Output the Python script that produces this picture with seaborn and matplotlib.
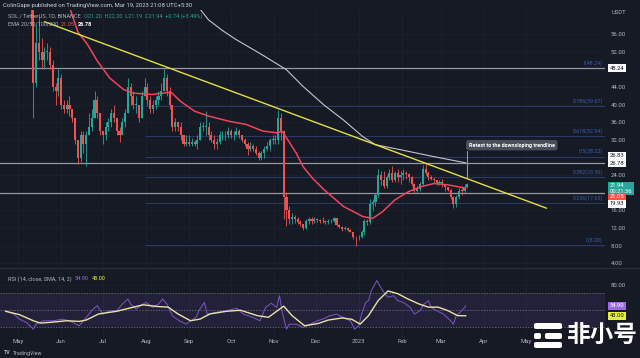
import matplotlib
matplotlib.use('Agg')
import matplotlib.pyplot as plt
import matplotlib.dates as mdates
import matplotlib.transforms as mtransforms
from matplotlib.patches import FancyBboxPatch
import numpy as np
import pandas as pd
import seaborn as sns

# SOL / USDT, 2-day candles
candle_start = '2022-05-07'
first_open = 86
close_px = [76, 62, 45, 54, 52, 50, 52, 52, 49, 44,
            43, 46, 40, 39, 40, 39, 37, 32, 28, 33,
            31, 33, 35, 37, 41, 38, 34, 33, 35, 36,
            38, 37, 34, 33, 36, 38, 44, 42, 40, 40,
            37, 42, 44, 41, 39, 40, 41, 42, 43, 46,
            43, 40, 35, 36, 35, 33, 31, 31.5, 31, 31.5,
            31, 32, 35, 35, 35, 33, 32, 31, 31.5, 33,
            33, 33, 34, 33, 33, 34, 33, 32, 31, 30,
            30.5, 30, 29, 28, 29, 30, 30.5, 32, 32, 32,
            37, 34, 19, 16, 14, 14.5, 14, 13.3, 13, 12,
            13.5, 14, 13.5, 14, 13.8, 13.7, 13.5, 13.3, 13.6, 13.5,
            14.2, 12.8, 12.3, 11.8, 12, 11.6, 11.2, 10, 9.9, 10,
            11, 13.5, 13.3, 17.5, 17.8, 19.5, 24, 23, 21.5, 23.5,
            24.5, 23, 24.5, 23.6, 24, 24.5, 24.3, 23.5, 22, 20.5,
            20.8, 22, 25.5, 24.5, 23.5, 23.2, 22.8, 22.3, 22.5, 21.9,
            21.2, 20.7, 19, 17.5, 19, 20.5, 20.4, 21.2, 21.94]
high_px = [88, 77, 63, 58, 60, 55, 53, 54, 53, 50,
           45, 48, 47, 41, 41, 42, 39, 37, 32, 34,
           34, 34, 38, 39, 43, 42, 38, 34, 36, 37,
           39, 40, 37, 35, 37, 39, 46, 45, 43, 42,
           40, 43, 46, 45, 42, 41, 42, 43, 45, 48,
           47, 44, 40, 37, 36, 36, 33, 33, 33, 32.5,
           32, 33, 36, 36, 38.5, 36, 34, 33, 32.5, 34,
           34, 34, 35, 34.5, 34, 35, 34.5, 33, 32.5, 31.5,
           31.5, 31, 30.5, 29.5, 29.5, 30.5, 31.5, 32.5, 33, 33,
           38.8, 38, 34, 20, 17, 15.5, 15, 14.5, 13.8, 13,
           14, 14.5, 14.5, 14.5, 14.3, 14.1, 14.5, 13.8, 14, 14,
           14.6, 14.3, 13, 12.5, 12.4, 12.2, 11.8, 11.2, 10.3, 10.5,
           11.5, 14, 14, 18.5, 18.5, 20, 25.5, 25, 25, 24,
           25.5, 26, 25, 25.3, 25, 25.5, 25, 24.5, 23.7, 22.3,
           21.5, 22.5, 26.2, 26.5, 25, 24, 23.5, 23, 23, 23.2,
           22, 21.3, 20.8, 19.2, 19.5, 21, 21.5, 22, 22.2]
low_px = [74, 58, 37, 44, 50, 48, 48, 50, 48, 43,
          40, 42, 39, 38, 38, 37.5, 36, 31, 26.5, 27,
          29, 26, 33, 34, 37, 37, 33, 31, 32, 34,
          35, 36, 33, 31.5, 33, 35, 38, 40, 39, 38,
          36, 37, 42, 40, 38, 38, 39, 40, 41, 43,
          42, 39, 34, 34, 34, 32, 30.5, 30.5, 30.5, 30.5,
          30.5, 30, 32, 34, 33, 32, 31.5, 30, 30, 31,
          32, 32, 32.5, 32.5, 32, 33, 32.5, 31.5, 30.5, 28.5,
          29.5, 29.5, 28.5, 27.5, 27.5, 28, 29.5, 29.5, 31, 31,
          31, 32, 14, 12.5, 13, 13, 13.2, 13, 12.5, 11.5,
          11.8, 13, 13, 13.2, 13.3, 13.2, 13.2, 12.9, 13, 13.2,
          13.4, 12.5, 12, 11.4, 11.6, 11.3, 11, 9.5, 8, 9.4,
          9.7, 10.5, 12.8, 13, 15.8, 17, 19, 21.8, 21, 21,
          23, 22.5, 22.5, 22.5, 22, 23, 23.2, 22.5, 21.5, 20,
          20, 20.5, 21.8, 24, 23, 22.8, 22.2, 21.8, 21.8, 21.3,
          20.5, 20.3, 18.5, 16.5, 16.8, 18.5, 19.6, 20, 21.1]

# moving averages
ema50_dates = ['2022-06-05', '2022-06-13', '2022-06-20', '2022-06-27', '2022-07-06',
               '2022-07-16', '2022-07-23', '2022-08-05', '2022-08-19', '2022-08-26',
               '2022-09-05', '2022-09-15', '2022-09-30', '2022-10-12', '2022-10-24',
               '2022-11-03', '2022-11-07', '2022-11-12', '2022-11-17', '2022-11-22',
               '2022-11-29', '2022-12-07', '2022-12-21', '2023-01-04', '2023-01-11',
               '2023-01-18', '2023-01-27', '2023-02-06', '2023-02-15', '2023-02-24',
               '2023-03-06', '2023-03-19']
ema50_vals = [64, 56.5, 53.6, 49.9, 46, 43.4, 42.6, 42.3, 42.8, 40.7,
              38.5, 37.4, 36.2, 35.5, 34, 33.6, 33.9, 31.5, 29, 25.9,
              23.2, 20.7, 16.9, 14.6, 14.2, 15.7, 18.4, 20.3, 21.4, 22.1,
              21.8, 21.05]
ema200_dates = ['2022-09-08', '2022-09-15', '2022-09-25', '2022-10-04', '2022-10-24',
                '2022-11-10', '2022-11-22', '2022-12-07', '2022-12-21', '2023-01-04',
                '2023-01-13', '2023-02-01', '2023-02-24', '2023-03-19']
ema200_vals = [62, 59.2, 56.8, 54.9, 51.2, 47.9, 44.1, 39.9, 36.5, 32.7,
               30.9, 29.7, 28.2, 26.78]

trend_dates = ['2022-05-20', '2023-05-16']
trend_vals = [58.8, 16.5]

fib_ratios = ['1', '0.786', '0.618', '0.5', '0.382', '0.236', '0']
fib_prices = [48.24, 39.67, 32.94, 28.22, 23.50, 17.65, 8.20]
level_prices = [48.24, 26.83, 19.93]

rsi_dates = ['2022-04-22', '2022-04-28', '2022-05-02', '2022-05-07', '2022-05-12', '2022-05-14',
             '2022-05-19', '2022-05-26', '2022-06-02', '2022-06-07', '2022-06-14', '2022-06-19',
             '2022-06-24', '2022-06-27', '2022-07-01', '2022-07-06', '2022-07-11', '2022-07-15',
             '2022-07-19', '2022-07-21', '2022-07-25', '2022-07-28', '2022-08-01', '2022-08-06',
             '2022-08-10', '2022-08-13', '2022-08-16', '2022-08-20', '2022-08-25', '2022-08-30',
             '2022-09-02', '2022-09-06', '2022-09-08', '2022-09-12', '2022-09-14', '2022-09-20',
             '2022-09-28', '2022-10-05', '2022-10-10', '2022-10-17', '2022-10-22', '2022-10-26',
             '2022-10-30', '2022-11-03', '2022-11-05', '2022-11-07', '2022-11-10', '2022-11-12',
             '2022-11-17', '2022-11-22', '2022-11-27', '2022-12-02', '2022-12-06', '2022-12-11',
             '2022-12-16', '2022-12-21', '2022-12-26', '2022-12-29', '2023-01-01', '2023-01-03',
             '2023-01-06', '2023-01-08', '2023-01-10', '2023-01-14', '2023-01-16', '2023-01-19',
             '2023-01-22', '2023-01-26', '2023-01-29', '2023-02-02', '2023-02-07', '2023-02-10',
             '2023-02-14', '2023-02-17', '2023-02-20', '2023-02-22', '2023-02-26', '2023-03-03',
             '2023-03-08', '2023-03-10', '2023-03-12', '2023-03-16', '2023-03-19']
rsi_vals = [49, 45, 39, 35, 27, 33,
            37, 37, 39, 37, 31, 41,
            51, 55, 45, 49, 49, 57,
            63, 57, 51, 55, 59, 53,
            57, 63, 57, 43, 37, 33,
            37, 41, 49, 59, 45, 47,
            49, 52, 45, 41, 37, 53,
            58, 53, 67, 47, 27, 33,
            33, 29, 33, 37, 39, 43,
            45, 41, 37, 27, 31, 45,
            59, 61, 73, 85, 79, 71,
            65, 67, 61, 59, 53, 45,
            49, 57, 61, 53, 49, 45,
            37, 33, 43, 49, 54.9]
rsi_sma_dates = ['2022-04-22', '2022-05-02', '2022-05-12', '2022-05-17', '2022-05-24', '2022-06-05',
                 '2022-06-14', '2022-06-19', '2022-06-28', '2022-07-11', '2022-07-23', '2022-07-30',
                 '2022-08-09', '2022-08-17', '2022-08-24', '2022-09-02', '2022-09-09', '2022-09-16',
                 '2022-09-28', '2022-10-08', '2022-10-20', '2022-10-28', '2022-11-01', '2022-11-08',
                 '2022-11-14', '2022-11-23', '2022-12-03', '2022-12-10', '2022-12-20', '2022-12-27',
                 '2023-01-02', '2023-01-08', '2023-01-15', '2023-01-22', '2023-01-29', '2023-02-05',
                 '2023-02-13', '2023-02-20', '2023-02-27', '2023-03-06', '2023-03-13', '2023-03-19']
rsi_sma_vals = [48.4, 44.4, 37.1, 34.3, 35.1, 37.1,
                36.3, 37.9, 45.2, 48.4, 53.3, 56.1,
                54.1, 53.3, 45.2, 37.1, 39.1, 45.2,
                48.4, 49.6, 43.2, 41.2, 46, 54.5,
                43.2, 31.1, 33.9, 37.9, 40.4, 38.8,
                33.1, 43.2, 61.3, 72.6, 69.4, 63.3,
                57.3, 53.3, 53.3, 49.2, 43.2, 43.0]

month_ticks = ['2022-05-01', '2022-06-01', '2022-07-01', '2022-08-01', '2022-09-01',
               '2022-10-01', '2022-11-01', '2022-12-01', '2023-01-01', '2023-02-01',
               '2023-03-01', '2023-04-01', '2023-05-01']
month_labels = ['May', 'Jun', 'Jul', 'Aug', 'Sep', 'Oct', 'Nov', 'Dec', '2023',
                'Feb', 'Mar', 'Apr', 'May']
price_ticks = [4, 8, 12, 16, 24, 32, 36, 40, 44, 52, 56]

BG = '#161a25'
GRID = '#1e2230'
TXT = '#b2b5be'
GREEN = '#26a69a'
RED = '#ef5350'

sns.set_theme(style='dark', rc={'axes.facecolor': BG, 'figure.facecolor': BG,
                                'axes.edgecolor': BG, 'grid.color': GRID})
plt.rcParams['font.family'] = ['Roboto', 'Noto Sans CJK SC', 'DejaVu Sans']


def d2n(d):
    return mdates.date2num(pd.to_datetime(d))


W, H = 640, 358
fig = plt.figure(figsize=(6.4, 3.58), dpi=100)
ax = fig.add_axes([0, 1 - 267 / H, 605 / W, 257 / H])
ax_rsi = fig.add_axes([0, 1 - 337 / H, 605 / W, 69 / H], sharex=ax)

# candles
df = pd.DataFrame({'start': pd.date_range(candle_start, periods=len(close_px), freq='2D'),
                   'close': close_px, 'high': high_px, 'low': low_px})
df['open'] = [first_open] + close_px[:-1]
df['x'] = mdates.date2num(df['start']) + 1
cols = np.where(df['close'] >= df['open'], GREEN, RED)
ax.vlines(df['x'], df['low'], df['high'], colors=cols, lw=0.6, zorder=3)
body = (df['close'] - df['open']).abs().clip(lower=0.15)
ax.bar(df['x'], body, bottom=df[['open', 'close']].min(axis=1), width=1.5,
       color=cols, linewidth=0, zorder=3)

# levels and fib retracement
x0 = d2n('2022-05-01') - 18 / 1.391
x1 = x0 + 605 / 1.391
fib_start = d2n('2022-07-31')
for r, p in zip(fib_ratios, fib_prices):
    ax.hlines(p, fib_start, x1, color='#2b3a68', lw=0.7, zorder=1)
    ax.text(x1 - 1.5, p + 0.5, f'{r}({p:.2f})', color='#3d5db0', fontsize=3.8,
            ha='right', va='bottom', zorder=2)
for p in level_prices:
    ax.axhline(p, color='#9598a1', lw=0.9, zorder=2)

# moving averages and trendline
sns.lineplot(x=d2n(ema200_dates), y=ema200_vals, ax=ax, color='#c3c6ce', lw=0.8, zorder=4)
sns.lineplot(x=d2n(ema50_dates), y=ema50_vals, ax=ax, color='#f0445a', lw=1.1, zorder=4)
sns.lineplot(x=d2n(trend_dates), y=trend_vals, ax=ax, color='#e3df45', lw=1.0, zorder=5)

# callout
ax.text(d2n('2023-04-21'), 30.8, 'Retest to the downsloping trendline', color='white',
        fontsize=3.9, fontweight='bold', ha='center', va='center', zorder=6,
        bbox=dict(boxstyle='round,pad=0.5', fc='#4b4f5b', ec='none'))
ax.plot([d2n('2023-03-20')] * 2, [29.4, 23.6], color='#9598a1', lw=0.8, zorder=6)

ax.set_xlim(x0, x1)
ax.set_ylim(3.17, 61.45)
ax.set_yticks(price_ticks)
ax.set_yticklabels([f'{v:.2f}' for v in price_ticks])
ax.yaxis.tick_right()
ax.tick_params(axis='y', length=0, pad=4, labelsize=4.3, colors=TXT)
ax.tick_params(axis='x', length=0, labelbottom=False)
ax.grid(True, color=GRID, lw=0.5)
ax.set_xlabel('')
ax.set_ylabel('')

trans = mtransforms.blended_transform_factory(ax.transAxes, ax.transData)


def price_box(axis, tr, y, txt, fc, tc):
    axis.text(1.008, y, txt, transform=tr, fontsize=4.2, color=tc, ha='left', va='center',
              linespacing=1.1, clip_on=False,
              bbox=dict(boxstyle='square,pad=0.25', fc=fc, ec='none'))


price_box(ax, trans, 48.24, '48.24', 'white', '#131722')
price_box(ax, trans, 28.41, '26.83', 'white', '#131722')
price_box(ax, trans, 26.69, '26.78', 'white', '#131722')
price_box(ax, trans, 20.98, '21.94\n00:21:36', GREEN, 'white')
price_box(ax, trans, 19.05, '21.05', RED, 'white')
price_box(ax, trans, 17.46, '19.93', 'white', '#131722')

# RSI pane
ax_rsi.axhspan(30, 70, color='#7e57c2', alpha=0.13, lw=0)
for lvl in (70, 50, 30):
    ax_rsi.axhline(lvl, color='#787b86', lw=0.5, ls=(0, (2, 2)))
sns.lineplot(x=d2n(rsi_dates), y=rsi_vals, ax=ax_rsi, color='#7e57c2', lw=0.7)
sns.lineplot(x=d2n(rsi_sma_dates), y=rsi_sma_vals, ax=ax_rsi, color='#e8e2a8', lw=1.0)
ax_rsi.set_ylim(17.7, 100)
ax_rsi.set_yticks([80])
ax_rsi.set_yticklabels(['80.00'])
ax_rsi.yaxis.tick_right()
ax_rsi.tick_params(axis='y', length=0, pad=4, labelsize=4.3, colors=TXT)
ax_rsi.set_xticks(d2n(month_ticks))
ax_rsi.set_xticklabels(month_labels)
ax_rsi.tick_params(axis='x', length=0, pad=1.5, labelsize=4.3, colors=TXT)
ax_rsi.grid(True, color=GRID, lw=0.5)
ax_rsi.set_xlabel('')
ax_rsi.set_ylabel('')
trans_r = mtransforms.blended_transform_factory(ax_rsi.transAxes, ax_rsi.transData)
price_box(ax_rsi, trans_r, 54.9, '54.90', '#9c6ade', 'white')
price_box(ax_rsi, trans_r, 43.0, '43.00', '#e4f03a', '#131722')
for a in (ax, ax_rsi):
    for s in a.spines.values():
        s.set_visible(False)

# separator between panes
fig.add_artist(plt.Line2D([0, 1], [1 - 267.5 / H] * 2, color='#2a2e39', lw=0.8))

# header texts, laid out one after another
renderer = fig.canvas.get_renderer()


def text_run(x_px, y_px, parts, size=4.0, gap=3):
    x = x_px / W
    for s, c, w in parts:
        t = fig.text(x, 1 - y_px / H, s, fontsize=size, color=c, va='center', fontweight=w)
        x = (t.get_window_extent(renderer=renderer).x1 + gap) / W


text_run(3, 5, [('ColinGape published on TradingView.com, Mar 19, 2023 21:08 UTC+5:30',
                 '#d1d4dc', 'normal')], size=4.2)
text_run(8, 16, [('SOL / TetherUS, 1D, BINANCE', TXT, 'normal'),
                 ('O21.20  H22.20  L21.19  C21.94  +0.74 (+3.49%)', GREEN, 'normal')])
text_run(8, 24, [('EMA 20/50/100/200', TXT, 'normal'), ('21.05', RED, 'normal'),
                 ('26.78', 'white', 'bold')])
text_run(8, 279, [('RSI (14, close, SMA, 14, 2)', TXT, 'normal'), ('54.90', '#9c6ade', 'normal'),
                  ('43.00', '#e4f03a', 'normal')])
text_run(4, 353, [('TV', TXT, 'bold'), ('TradingView', TXT, 'normal')], size=3.8, gap=2)
fig.text(612 / W, 1 - 13 / H, 'USDT', fontsize=4.2, color=TXT, va='center')

# watermark
for bx, by, bw in [(534, 323, 28), (534, 333, 7), (545, 333, 17), (534, 342, 28)]:
    fig.add_artist(FancyBboxPatch((bx / W, 1 - (by + 6) / H), bw / W, 6 / H,
                                  boxstyle='round,pad=0,rounding_size=0.004',
                                  fc='white', ec='none', transform=fig.transFigure))
fig.text(567 / W, 1 - 335 / H, '非小号', fontsize=17, color='white', fontweight='bold',
         va='center', family=['Noto Sans CJK SC', 'DejaVu Sans'])

fig.savefig('out.png', dpi=100, facecolor=BG)
